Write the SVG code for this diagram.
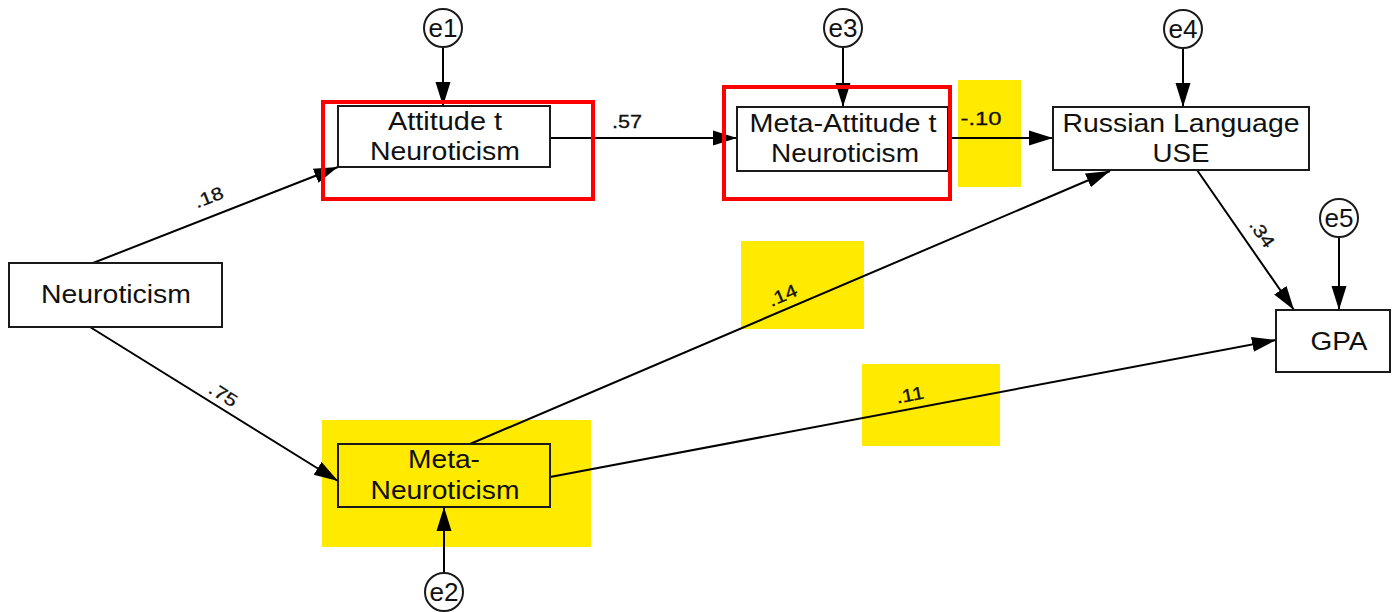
<svg xmlns="http://www.w3.org/2000/svg" width="1393" height="612" viewBox="0 0 1393 612">
  <defs>
    <marker id="arr" markerUnits="userSpaceOnUse" markerWidth="26" markerHeight="18" refX="24" refY="8" orient="auto">
      <path d="M0,0.5 L24,8 L0,15.5 z" fill="#000"/>
    </marker>
    <style>
      .box { fill: #fff; stroke: #1a1a1a; stroke-width: 2; }
      .err { fill: #fff; stroke: #1a1a1a; stroke-width: 2; }
      .t { font-family: "Liberation Sans", Arial, sans-serif; font-size: 25px; fill: #111; text-anchor: middle; }
      .lab { font-family: "Liberation Sans", Arial, sans-serif; font-size: 18px; fill: #111; text-anchor: middle; stroke: #111; stroke-width: 0.3; }
      .con { stroke: #000; stroke-width: 2; fill: none; marker-end: url(#arr); }
      .hy { fill: #FFEA00; stroke: none; }
      .hr { fill: none; stroke: #FF0000; stroke-width: 4; }
    </style>
  </defs>
  <rect width="1393" height="612" fill="#fff"/>

  <!-- yellow highlights (behind) -->
  <g id="highlights-yellow">
    <rect class="hy" x="322" y="420" width="269" height="127"/>
    <rect class="hy" x="958" y="80" width="63" height="107"/>
    <rect class="hy" x="741" y="241" width="123" height="88"/>
    <rect class="hy" x="862" y="364" width="138" height="82"/>
  </g>

  <g id="connectors">
    <line class="con" x1="443" y1="47" x2="443" y2="106"/>
    <line class="con" x1="843" y1="47" x2="843" y2="107"/>
    <line class="con" x1="1183" y1="48" x2="1183" y2="107"/>
    <line class="con" x1="1339" y1="237" x2="1339" y2="310"/>
    <line class="con" x1="444" y1="573" x2="444" y2="507"/>
    <line class="con" x1="93" y1="263" x2="338" y2="167"/>
    <line class="con" x1="90" y1="327" x2="338" y2="481"/>
    <line class="con" x1="550" y1="138" x2="737" y2="138"/>
    <line class="con" x1="948" y1="138" x2="1053" y2="138"/>
    <line class="con" x1="470" y1="444" x2="1110" y2="171"/>
    <line class="con" x1="550" y1="477" x2="1276" y2="340"/>
    <line class="con" x1="1197" y1="170" x2="1294" y2="310"/>
  </g>

  <g id="labels">
    <text class="lab" x="627" y="128" textLength="30" lengthAdjust="spacingAndGlyphs">.57</text>
    <text class="lab" x="981" y="125" textLength="41" lengthAdjust="spacingAndGlyphs">-.10</text>
    <text class="lab" transform="translate(211,203) rotate(-21.4)" textLength="30" lengthAdjust="spacingAndGlyphs">.18</text>
    <text class="lab" transform="translate(220,400) rotate(32)" textLength="30" lengthAdjust="spacingAndGlyphs">.75</text>
    <text class="lab" transform="translate(785,301) rotate(-23.2)" textLength="30" lengthAdjust="spacingAndGlyphs">.14</text>
    <text class="lab" transform="translate(911,401) rotate(-10.7)" textLength="28" lengthAdjust="spacingAndGlyphs">.11</text>
    <text class="lab" transform="translate(1257,237) rotate(55)" textLength="30" lengthAdjust="spacingAndGlyphs">.34</text>
  </g>

  <g id="node-neuroticism">
    <rect class="box" x="9" y="263" width="213" height="64"/>
    <text class="t" x="116" y="303" textLength="150" lengthAdjust="spacingAndGlyphs">Neuroticism</text>
  </g>
  <g id="node-attitude">
    <rect class="box" x="338" y="106" width="212" height="61"/>
    <text class="t" x="445" y="130" textLength="114" lengthAdjust="spacingAndGlyphs">Attitude t</text>
    <text class="t" x="445" y="160" textLength="150" lengthAdjust="spacingAndGlyphs">Neuroticism</text>
  </g>
  <g id="node-meta-attitude">
    <rect class="box" x="737" y="107" width="211" height="64"/>
    <text class="t" x="843" y="132" textLength="187" lengthAdjust="spacingAndGlyphs">Meta-Attitude t</text>
    <text class="t" x="845" y="162" textLength="148" lengthAdjust="spacingAndGlyphs">Neuroticism</text>
  </g>
  <g id="node-russian">
    <rect class="box" x="1053" y="107" width="256" height="63"/>
    <text class="t" x="1181" y="132" textLength="237" lengthAdjust="spacingAndGlyphs">Russian Language</text>
    <text class="t" x="1181" y="162" textLength="57" lengthAdjust="spacingAndGlyphs">USE</text>
  </g>
  <g id="node-gpa">
    <rect class="box" x="1276" y="310" width="114" height="62"/>
    <text class="t" x="1339" y="350" textLength="57" lengthAdjust="spacingAndGlyphs">GPA</text>
  </g>
  <g id="node-meta-neuroticism">
    <rect class="box" x="338" y="444" width="212" height="63" style="fill:none"/>
    <text class="t" x="444" y="468" textLength="72" lengthAdjust="spacingAndGlyphs">Meta-</text>
    <text class="t" x="445" y="499" textLength="149" lengthAdjust="spacingAndGlyphs">Neuroticism</text>
  </g>

  <g id="node-e1">
    <circle class="err" cx="443" cy="28" r="19"/>
    <text class="t" x="443" y="37" textLength="29" lengthAdjust="spacingAndGlyphs">e1</text>
  </g>
  <g id="node-e3">
    <circle class="err" cx="843" cy="28" r="19"/>
    <text class="t" x="843" y="37" textLength="29" lengthAdjust="spacingAndGlyphs">e3</text>
  </g>
  <g id="node-e4">
    <circle class="err" cx="1183" cy="29" r="19"/>
    <text class="t" x="1183" y="38" textLength="29" lengthAdjust="spacingAndGlyphs">e4</text>
  </g>
  <g id="node-e5">
    <circle class="err" cx="1339" cy="218" r="19"/>
    <text class="t" x="1339" y="227" textLength="29" lengthAdjust="spacingAndGlyphs">e5</text>
  </g>
  <g id="node-e2">
    <circle class="err" cx="444" cy="592" r="19"/>
    <text class="t" x="444" y="601" textLength="29" lengthAdjust="spacingAndGlyphs">e2</text>
  </g>

  <g id="highlights-red">
    <rect class="hr" x="323" y="102" width="270" height="97"/>
    <rect class="hr" x="724" y="87" width="226" height="112"/>
  </g>
</svg>
